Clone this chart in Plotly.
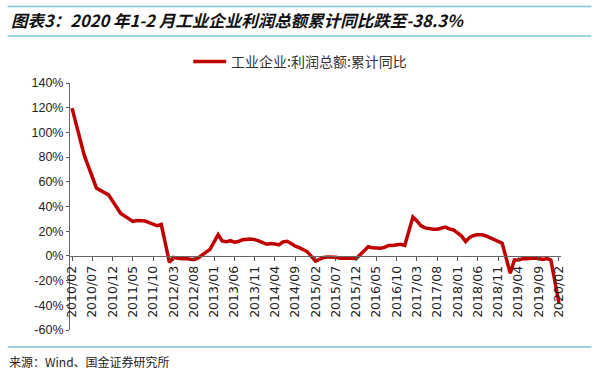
import plotly.graph_objects as go

# ---- data ----
months = [f"{y}/{m:02d}" for y in range(2010, 2021) for m in range(1, 13)]
months = months[months.index("2010/02"):months.index("2020/02") + 1]

values_2010 = [119.7, None, None, 81.6, None, None, 55.0, None, None, 49.4, None]        # Feb-Dec
values_2011 = [None, 34.3, 32.0, 29.7, 27.9, 28.7, 28.3, 28.2, 27.0, 25.3, 24.4, 25.4]   # Jan-Dec
values_2012 = [None, -5.2, -1.3, -2.2, -2.4, -2.2, -2.7, -3.1, -1.8, 0.5, 3.0, 5.3]
values_2013 = [None, 17.2, 12.1, 11.4, 12.3, 11.1, 11.6, 13.1, 13.5, 13.7, 13.2, 12.2]
values_2014 = [None, 9.4, 10.1, 9.6, 8.9, 11.4, 11.8, 10.0, 7.9, 6.7, 5.3, 3.3]
values_2015 = [None, -4.2, -2.7, -1.3, -0.8, -0.7, -1.0, -1.9, -1.7, -2.0, -1.9, -2.3]
values_2016 = [None, 4.8, 7.4, 6.5, 6.4, 6.2, 6.9, 8.4, 8.4, 8.6, 9.4, 8.5]
values_2017 = [None, 31.5, 28.3, 24.4, 22.7, 22.0, 21.6, 21.6, 22.8, 23.3, 21.9, 21.0]
values_2018 = [None, 16.1, 11.6, 15.0, 16.5, 17.2, 17.1, 16.2, 14.7, 13.6, 11.8, 10.3]
values_2019 = [None, -14.0, -3.3, -3.4, -2.3, -2.4, -1.7, -1.7, -2.1, -2.9, -2.1, -3.3]
values_2020 = [None, -38.3]

profit_yoy = (values_2010 + values_2011 + values_2012 + values_2013 + values_2014 +
              values_2015 + values_2016 + values_2017 + values_2018 + values_2019 + values_2020)

tick_labels = months[::5]
y_ticks = list(range(-60, 141, 20))
y_tick_text = [f"{v}%" for v in y_ticks]

series_name = "工业企业:利润总额:累计同比"
title_text = "图表3：2020 年1-2 月工业企业利润总额累计同比跌至-38.3%"
source_text = "来源：Wind、国金证券研究所"

# ---- layout geometry (pixels) ----
W, H = 600, 371
L, R, T, B = 69.5, 561.5, 83, 330
pw, ph = R - L, B - T
px = lambda x: (x - L) / pw
py = lambda y: (B - y) / ph

SERIES_COLOR = "#C00000"

fig = go.Figure()
fig.add_trace(go.Scatter(
    x=months, y=profit_yoy, mode="lines", name=series_name,
    connectgaps=True, showlegend=False,
    line=dict(color=SERIES_COLOR, width=3.5),
))

zero_pos = (0 - (-60)) / (140 - (-60))

fig.update_layout(
    width=W, height=H,
    margin=dict(l=L, r=W - R, t=T, b=H - B, pad=0, autoexpand=False),
    paper_bgcolor="white", plot_bgcolor="white",
    font=dict(family="Liberation Sans, Arial, sans-serif", color="#222"),
    xaxis=dict(
        type="category", categoryorder="array", categoryarray=months,
        range=[-0.5, len(months) - 0.5],
        tickvals=tick_labels, ticktext=tick_labels,
        tickangle=-90, ticks="outside", ticklen=4, tickcolor="#555",
        tickfont=dict(family="DejaVu Sans", size=12.5, color="#222"),
        showline=True, linecolor="#666", linewidth=1,
        showgrid=False, zeroline=False,
        anchor="free", position=zero_pos,
    ),
    yaxis=dict(
        range=[-60, 140], tickvals=y_ticks, ticktext=y_tick_text,
        ticks="outside", ticklen=3, tickcolor="#555",
        tickfont=dict(size=12.5, color="#222"),
        showline=True, linecolor="#666", linewidth=1,
        showgrid=False, zeroline=False,
    ),
    showlegend=False,
)

# legend (drawn manually so it does not push the margins)
fig.add_shape(type="line", xref="paper", yref="paper",
              x0=px(193), x1=px(226), y0=py(61.5), y1=py(61.5),
              line=dict(color=SERIES_COLOR, width=3.5))
fig.add_annotation(
    text=series_name, xref="paper", yref="paper",
    x=px(229), y=py(61.5), xanchor="left", yanchor="middle", showarrow=False,
    font=dict(family="Noto Sans CJK SC", size=14, color="#333"),
)

line_col = "#7DC3DC"
for yy in (6.5, 36, 347):
    fig.add_shape(type="line", xref="paper", yref="paper",
                  x0=px(7), x1=px(592), y0=py(yy), y1=py(yy),
                  line=dict(color=line_col, width=1.5))

fig.add_annotation(
    text=f"<b><i>{title_text}</i></b>", xref="paper", yref="paper",
    x=px(8), y=py(19.5), xanchor="left", yanchor="middle", showarrow=False,
    font=dict(family="Noto Sans CJK SC", size=16.5, color="#111"),
)
fig.add_annotation(
    text=source_text, xref="paper", yref="paper",
    x=px(6), y=py(361.5), xanchor="left", yanchor="middle", showarrow=False,
    font=dict(family="Noto Sans CJK SC", size=12, color="#222"),
)

fig.write_html(
    "out.html",
    config={"displayModeBar": False, "staticPlot": True},
    post_script="document.body.style.margin='0px';document.body.style.overflow='hidden';",
)
